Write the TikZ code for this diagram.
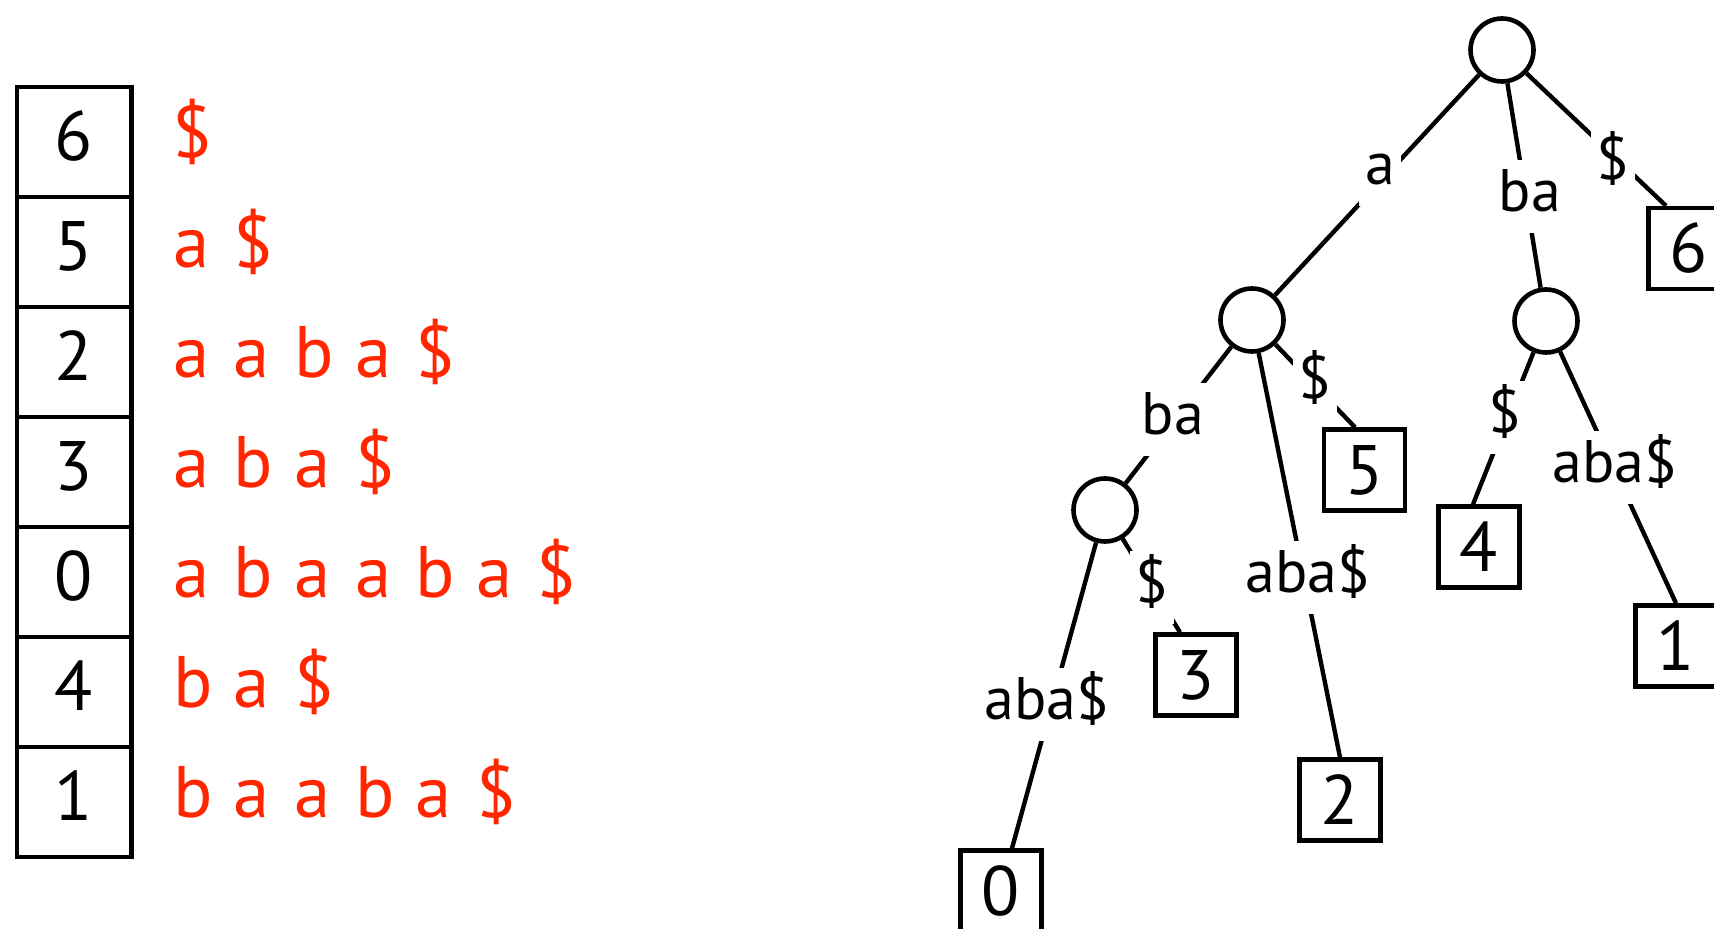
\documentclass[tikz,border=0pt]{standalone}
\usepackage{fontspec}
\setmainfont{PT Sans}
\definecolor{sred}{RGB}{255,38,0}
\newcommand\sfxl[1]{\makebox[30.3pt][l]{#1}}
\tikzset{
 cell/.style={draw, line width=2.2pt, minimum width=57.3pt, minimum height=55pt, inner sep=0pt, text depth=6pt, font=\fontsize{35}{42}\selectfont},
 sfx/.style={anchor=base west, inner sep=0pt, text=sred, font=\fontsize{36.5}{44}\selectfont},
 inode/.style={circle, draw, line width=2.3pt, minimum size=31.5pt, inner sep=0pt},
 leaf/.style={rectangle, draw, line width=2.2pt, minimum size=40.5pt, inner sep=0pt, font=\fontsize{35}{42}\selectfont},
 lbl/.style={fill=white, anchor=base, inner xsep=3pt, inner ysep=0pt, text height=26pt, text depth=10.5pt, font=\fontsize{30}{36}\selectfont},
 edge/.style={line width=2.2pt},
}
\begin{document}
\begin{tikzpicture}[x=0.5pt,y=-0.5pt]
\useasboundingbox (0,0) rectangle (1714,929);
\clip (0,0) rectangle (1714,929);
% suffix array table
\node[cell] (c0) at (74,142) {6};
\node[cell] (c1) at (74,252) {5};
\node[cell] (c2) at (74,362) {2};
\node[cell] (c3) at (74,472) {3};
\node[cell] (c4) at (74,582) {0};
\node[cell] (c5) at (74,692) {4};
\node[cell] (c6) at (74,802) {1};
\node[sfx] (s0) at (172,158) {\sfxl{\$}};
\node[sfx] (s1) at (173,268) {\sfxl{a}\sfxl{\$}};
\node[sfx] (s2) at (173,378) {\sfxl{a}\sfxl{a}\sfxl{b}\sfxl{a}\sfxl{\$}};
\node[sfx] (s3) at (173,488) {\sfxl{a}\sfxl{b}\sfxl{a}\sfxl{\$}};
\node[sfx] (s4) at (173,598) {\sfxl{a}\sfxl{b}\sfxl{a}\sfxl{a}\sfxl{b}\sfxl{a}\sfxl{\$}};
\node[sfx] (s5) at (173,708) {\sfxl{b}\sfxl{a}\sfxl{\$}};
\node[sfx] (s6) at (173,818) {\sfxl{b}\sfxl{a}\sfxl{a}\sfxl{b}\sfxl{a}\sfxl{\$}};
% suffix tree
\node[inode] (root) at (1502,50) {};
\node[inode] (achild) at (1252,320) {};
\node[inode] (bnode) at (1546,321) {};
\node[inode] (ab) at (1105,510) {};
\node[leaf] (box6) at (1689,248.5) {6};
\node[leaf] (box5) at (1364.5,470) {5};
\node[leaf] (box3) at (1196,675) {3};
\node[leaf] (box0) at (1001,891) {0};
\node[leaf] (box2) at (1340,800) {2};
\node[leaf] (box4) at (1479,547) {4};
\node[leaf] (box1) at (1676,646) {1};
\draw[edge] (root) -- (achild);
\draw[edge] (root) -- (bnode);
\draw[edge] (root) -- ([xshift=-11.5pt]box6.north);
\draw[edge] (achild) -- (ab);
\draw[edge] (achild) -- ([xshift=-4.75pt]box5.north);
\draw[edge] (achild) -- (box2.north);
\draw[edge] (ab) -- ([xshift=-8pt]box3.north);
\draw[edge] (ab) -- ([xshift=5.5pt]box0.north);
\draw[edge] (bnode) -- ([xshift=-3pt]box4.north);
\draw[edge] (bnode) -- (box1.north);
\node[lbl] (la) at (1380,185) {a};
\node[lbl] (lba) at (1530,212) {ba};
\node[lbl] (l6) at (1613,180) {\$};
\node[lbl] (lba2) at (1173,435) {ba};
\node[lbl] (l5) at (1315,399) {\$};
\node[lbl] (l2) at (1308,593) {aba\$};
\node[lbl] (l3) at (1152,603) {\$};
\node[lbl] (l0) at (1047,720) {aba\$};
\node[lbl] (l4) at (1505,433) {\$};
\node[lbl] (l1) at (1615,483) {aba\$};
\end{tikzpicture}
\end{document}
